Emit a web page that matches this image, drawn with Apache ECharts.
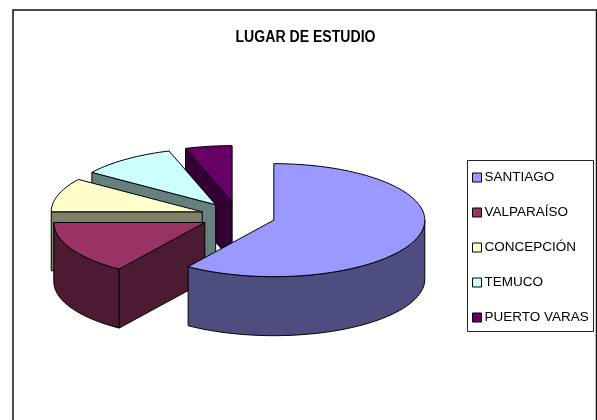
<!DOCTYPE html>
<html>
<head>
<meta charset="utf-8">
<style>
  html, body { margin: 0; padding: 0; background: #fff; }
  #main { width: 597px; height: 420px; }
</style>
<script src="https://cdn.jsdelivr.net/npm/echarts@6/dist/echarts.min.js"></script>
</head>
<body>
<div id="main"></div>
<script>
const categories = ["SANTIAGO", "VALPARAÍSO", "CONCEPCIÓN", "TEMUCO", "PUERTO VARAS"];
const values = [59.6, 15.4, 9.7, 10.3, 5];
const topColors = ["#9999FF", "#993366", "#FFFFCC", "#CCFFFF", "#660066"];
const sideColors = ["#4D4D80", "#4D1A33", "#808066", "#668080", "#330033"];

// ECharts has no 3D pie, so the slices are projected by hand from the values
const centerX = 238;
const centerY = 216;
const radiusX = 151;
const radiusY = 56.5;
const depth = 59;
const explode = 37.5;

const total = values.reduce((a, b) => a + b, 0);

function point(cx, cy, deg) {
  const r = (deg * Math.PI) / 180;
  return [cx + radiusX * Math.sin(r), cy - radiusY * Math.cos(r)];
}

function arc(cx, cy, from, to) {
  const pts = [];
  const steps = Math.max(2, Math.ceil(Math.abs(to - from) / 2));
  for (let i = 0; i <= steps; i++) {
    pts.push(point(cx, cy, from + ((to - from) * i) / steps));
  }
  return pts;
}

function face(points, fill) {
  return {
    type: "polygon",
    shape: { points: points },
    style: { fill: fill, stroke: "#000", lineWidth: 1 },
  };
}

function renderSlice(index) {
  return function (params, api) {
    const before = values.slice(0, index).reduce((a, b) => a + b, 0);
    const start = (before / total) * 360;
    const end = start + (api.value(0) / total) * 360;
    const mid = ((start + end) / 2) * (Math.PI / 180);
    const cx = centerX + explode * Math.sin(mid);
    const cy = centerY - (explode * Math.cos(mid) * radiusY) / radiusX;
    const down = (p) => [p[0], p[1] + depth];
    const cut = (deg) => {
      const p = point(cx, cy, deg);
      return face([[cx, cy], p, down(p), [cx, cy + depth]], sideColors[index]);
    };

    const children = [];
    // cut faces, only those turned towards the viewer
    if (Math.sin((start * Math.PI) / 180) < -0.001) children.push(cut(start));
    if (Math.sin((end * Math.PI) / 180) > 0.001) children.push(cut(end));
    // outer wall, only the front half of the ellipse shows
    const wallFrom = Math.max(start, 90);
    const wallTo = Math.min(end, 270);
    if (wallTo > wallFrom) {
      const edge = arc(cx, cy, wallFrom, wallTo);
      children.push(
        face(edge.concat(edge.map(down).reverse()), sideColors[index])
      );
    }
    // top
    children.push(
      face([[cx, cy]].concat(arc(cx, cy, start, end)), topColors[index])
    );
    return { type: "group", children: children };
  };
}

// drawn back to front, Santiago last
const series = categories
  .map((name, i) => ({
    name: name,
    type: "custom",
    coordinateSystem: "none",
    silent: true,
    animation: false,
    itemStyle: { color: topColors[i] },
    renderItem: renderSlice(i),
    data: [[values[i]]],
  }))
  .reverse();

const myChart = echarts.init(document.getElementById("main"));

myChart.setOption({
  animation: false,
  backgroundColor: "#fff",
  legend: {
    data: categories,
    orient: "vertical",
    left: 467,
    top: 160,
    padding: [10.5, 4, 9, 5],
    itemWidth: 9,
    itemHeight: 9,
    itemGap: 21,
    icon: "rect",
    selectedMode: false,
    itemStyle: { borderColor: "#000", borderWidth: 1 },
    textStyle: {
      fontFamily: "Liberation Sans",
      fontSize: 13.5,
      color: "#000",
      padding: [0, 0, 0, -2],
    },
  },
  graphic: [
    {
      // the title is condensed in the original, a title component can't squeeze text
      type: "text",
      silent: true,
      x: 305.5,
      y: 37.5,
      scaleX: 0.88,
      style: {
        text: "LUGAR DE ESTUDIO",
        textAlign: "center",
        textVerticalAlign: "middle",
        font: "bold 16px 'Liberation Sans'",
        fill: "#000",
      },
    },
    {
      type: "rect",
      silent: true,
      shape: { x: 13, y: 10, width: 583.5, height: 420 },
      style: { fill: "none", stroke: "#111", lineWidth: 1.5 },
    },
    {
      type: "rect",
      silent: true,
      shape: { x: 467.5, y: 160.5, width: 126, height: 171 },
      style: { fill: "none", stroke: "#222", lineWidth: 1 },
    },
  ],
  series: series,
});
</script>
</body>
</html>
